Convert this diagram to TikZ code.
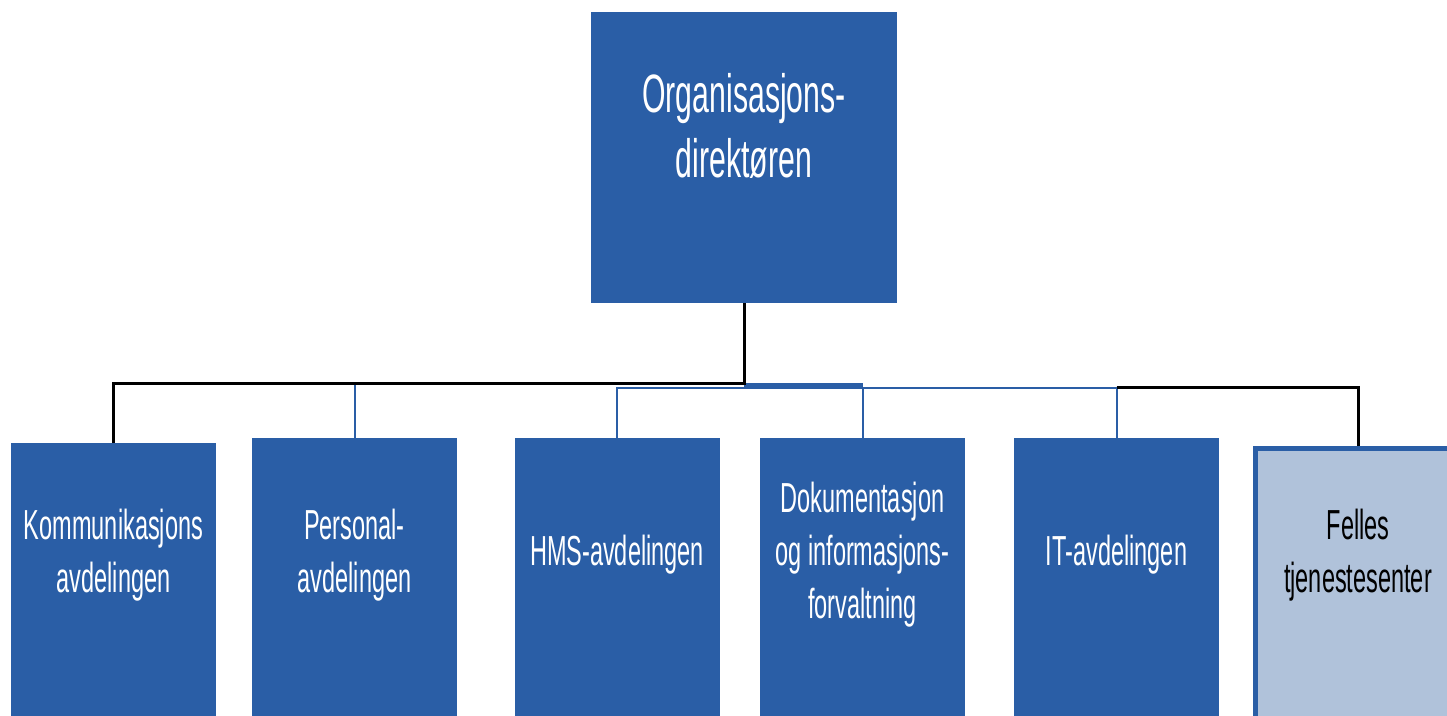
\documentclass[tikz,border=0pt]{standalone}
\usepackage{fontspec}
\setmainfont{Liberation Sans}[FakeStretch=0.56]
\definecolor{orgblue}{RGB}{42,94,166}
\definecolor{orglight}{RGB}{176,194,218}
\begin{document}
\begin{tikzpicture}[x=0.5pt,y=-0.5pt]
	\tikzstyle{dept} = [rectangle,fill=orgblue,minimum width=102.5pt,minimum height=170pt,anchor=north,inner sep=0pt]
	\tikzstyle{depttext} = [text=white,align=center,font=\fontsize{21}{26.5}\selectfont]
	\tikzstyle{blackline} = [draw=black,line width=1.5pt]
	\tikzstyle{blueline} = [draw=orgblue,line width=1pt]
	\clip (0,0) rectangle (1447,716);
	\node[rectangle,fill=orgblue,minimum width=153pt,minimum height=145.5pt,inner sep=0pt](org)at (744,157.5){};
	\node[depttext,font=\fontsize{27}{32.5}\selectfont](orgtext)at (744,126){Organisasjons-\\direktøren};
	\coordinate (txtrow) at (0,555);
	\node[dept](komm)at (113.5,443){};
	\node[dept](pers)at (354.5,438){};
	\node[dept](hms)at (617,438){};
	\node[dept](dok)at (862.5,438){};
	\node[dept](it)at (1116.5,438){};
	\node[dept,fill=orglight,draw=orgblue,line width=2.5pt](fel)at (1358,446){};
	\node[depttext](kommtext)at (komm.north |- txtrow){Kommunikasjons\\avdelingen};
	\node[depttext](perstext)at (pers.north |- txtrow){Personal-\\avdelingen};
	\node[depttext](hmstext)at (hms.north |- txtrow){HMS-avdelingen};
	\node[depttext](doktext)at (dok.north |- txtrow){Dokumentasjon\\og informasjons-\\forvaltning};
	\node[depttext](ittext)at (it.north |- txtrow){IT-avdelingen};
	\node[depttext,text=black](feltext)at (fel.north |- txtrow){Felles\\tjenestesenter};
	\coordinate (bus) at (744,384);
	\coordinate (busb) at (744,388);
	\coordinate (busc) at (744,386);
	\draw[blueline,line width=2.5pt] (busc) -- (busc -| dok.north);
	\draw[blueline] (hms.north) |- (it.north |- busb) -- (it.north);
	\draw[blueline] (dok.north) -- (dok.north |- busb);
	\draw[blueline] (pers.north) -- (pers.north |- bus);
	\draw[blackline] (org.south) -- (bus) -| (komm.north);
	\draw[blackline] (it.north |- busb) -| (fel.north);
\end{tikzpicture}
\end{document}
